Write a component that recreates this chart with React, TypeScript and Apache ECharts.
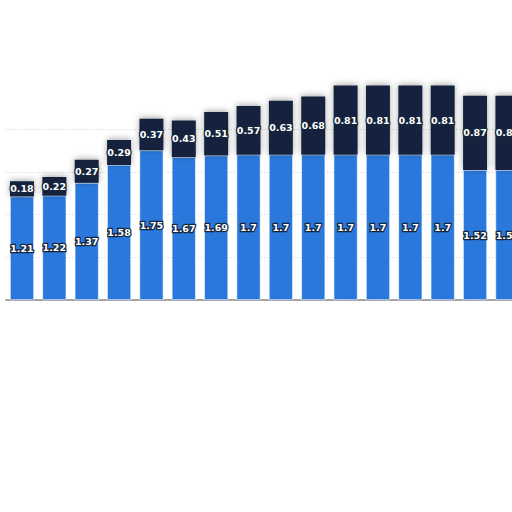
import React, { useEffect, useRef } from "react";
import * as echarts from "echarts";

const categories = ["1", "2", "3", "4", "5", "6", "7", "8", "9", "10", "11", "12", "13", "14", "15", "16"];
const lowerValues = [1.21, 1.22, 1.37, 1.58, 1.75, 1.67, 1.69, 1.7, 1.7, 1.7, 1.7, 1.7, 1.7, 1.7, 1.52, 1.52];
const upperValues = [0.18, 0.22, 0.27, 0.29, 0.37, 0.43, 0.51, 0.57, 0.63, 0.68, 0.81, 0.81, 0.81, 0.81, 0.87, 0.87];

const labelStyle = {
  show: true,
  position: "inside" as const,
  color: "#ffffff",
  fontFamily: "DejaVu Sans",
  fontWeight: "bold" as const,
  fontSize: 9.5,
  textBorderColor: "#15263d",
  textBorderWidth: 2.5,
};

export default function App() {
  const ref = useRef<HTMLDivElement>(null);
  useEffect(() => {
    if (!ref.current) return;
    const chart = echarts.init(ref.current, undefined, { renderer: "svg" });
    chart.setOption({
      animation: false,
      backgroundColor: "#ffffff",
      grid: { left: 5.8, top: 129, width: 517.8, height: 171, containLabel: false },
      xAxis: {
        type: "category",
        data: categories,
        axisLine: { show: true, lineStyle: { color: "#8a8a8a", width: 1.5 } },
        axisTick: { show: false },
        axisLabel: { show: false },
      },
      yAxis: {
        type: "value",
        min: 0,
        max: 2,
        interval: 0.5,
        axisLabel: { show: false },
        axisLine: { show: false },
        axisTick: { show: false },
        splitLine: { show: true, lineStyle: { color: "#cfcfcf", type: [1, 2], width: 1 } },
      },
      series: [
        {
          type: "bar",
          stack: "total",
          clip: false,
          data: lowerValues,
          barCategoryGap: "26%",
          itemStyle: { color: "#2b78dc", borderColor: "#ffffff", borderWidth: 0.6 },
          label: labelStyle,
        },
        {
          type: "bar",
          stack: "total",
          clip: false,
          data: upperValues,
          barCategoryGap: "26%",
          itemStyle: {
            color: "#12243c",
            shadowBlur: 6,
            shadowColor: "rgba(0,0,0,0.35)",
            shadowOffsetY: -1,
          },
          label: labelStyle,
        },
      ],
    });
    return () => chart.dispose();
  }, []);
  return (
    <div style={{ position: "fixed", left: 0, top: 0, width: 512, height: 512, overflow: "hidden", background: "#fff" }}>
      <div ref={ref} style={{ width: 560, height: 512 }} />
    </div>
  );
}
